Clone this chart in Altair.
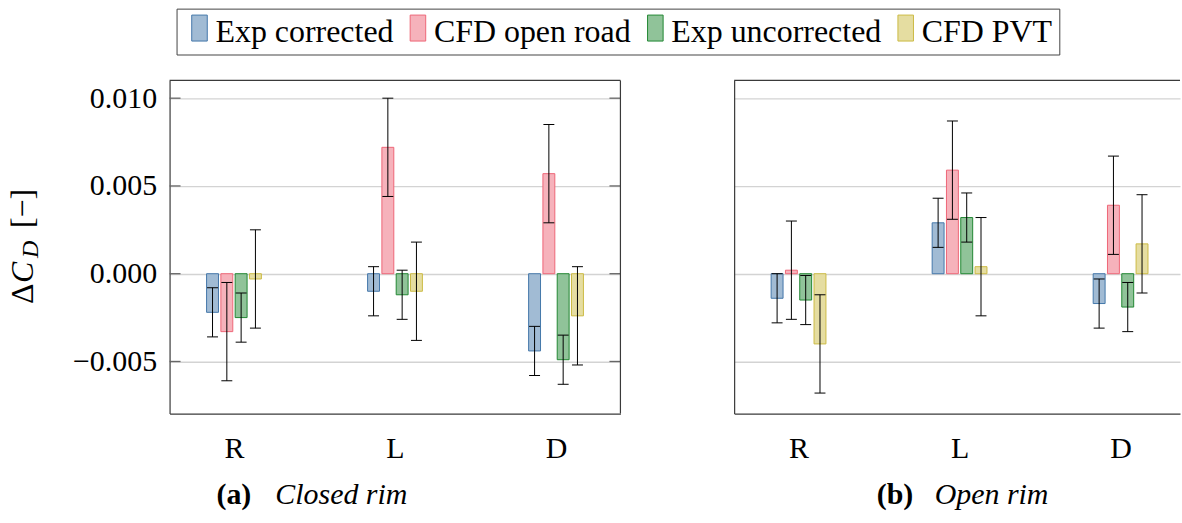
import altair as alt
import pandas as pd

categories = ["R", "L", "D"]
series = ["Exp corrected", "CFD open road", "Exp uncorrected", "CFD PVT"]
line_colors = ["#4477AA", "#EE6677", "#228833", "#CCBB44"]
fill_colors = ["#A1BBD4", "#F6B2BB", "#90C399", "#E5DDA1"]

# Delta C_D for R, L, D -- closed rim
closed_exp_corrected = [-0.0022, -0.0010, -0.0044]
closed_cfd_open_road = [-0.0033, 0.0072, 0.0057]
closed_exp_uncorrected = [-0.0025, -0.0012, -0.0049]
closed_cfd_pvt = [-0.0003, -0.0010, -0.0024]

# Delta C_D for R, L, D -- open rim
open_exp_corrected = [-0.0014, 0.0029, -0.0017]
open_cfd_open_road = [0.0002, 0.0059, 0.0039]
open_exp_uncorrected = [-0.0015, 0.0032, -0.0019]
open_cfd_pvt = [-0.0040, 0.0004, 0.0017]

# half-widths of the uncertainty bars
exp_uncertainty = [0.0014, 0.0014, 0.0014]
cfd_uncertainty = [0.0028, 0.0028, 0.0028]

y_ticks = [-0.005, 0.0, 0.005, 0.010]

FONT = "Liberation Serif"
FRAME = "#3a3a3a"
TICK = "#666666"
BAR_STEP = 0.0888
BAR_HALF = 0.037
CAP_HALF = 0.034
Y_DOMAIN = [-0.00797, 0.01101]
PANEL_H = 334


def table(groups):
    rows = []
    for s_idx, (name, vals, errs) in enumerate(groups):
        for c_idx, (v, e) in enumerate(zip(vals, errs)):
            rows.append({"cat": c_idx, "series": name, "s": s_idx, "value": v, "err": e})
    return pd.DataFrame(rows)


closed_df = table([
    (series[0], closed_exp_corrected, exp_uncertainty),
    (series[1], closed_cfd_open_road, cfd_uncertainty),
    (series[2], closed_exp_uncorrected, exp_uncertainty),
    (series[3], closed_cfd_pvt, cfd_uncertainty),
])
open_df = table([
    (series[0], open_exp_corrected, exp_uncertainty),
    (series[1], open_cfd_open_road, cfd_uncertainty),
    (series[2], open_exp_uncorrected, exp_uncertainty),
    (series[3], open_cfd_pvt, cfd_uncertainty),
])
tick_df = pd.DataFrame({"t": y_ticks})
one = pd.DataFrame({"k": [0]})

label_expr = "[" + ",".join(f"'{c}'" for c in categories) + "][datum.value]"

# tall narrow swatch, nudged up to sit level with the label text
legend = alt.Legend(
    orient="none", legendX=7, legendY=-72, direction="horizontal", columns=4,
    title=None, labelFont=FONT, labelFontSize=32, labelColor="black", labelLimit=0,
    symbolType="M-1,-2.12H1V1.22H-1Z", symbolSize=243, symbolStrokeWidth=1,
    labelOffset=0, columnPadding=8, padding=7, strokeColor="#444444",
)


def panel(df, width, x_domain, show_y_labels, tag, caption, tag_x, caption_x):
    x_scale = alt.Scale(domain=x_domain, nice=False, zero=False)
    y_scale = alt.Scale(domain=Y_DOMAIN, nice=False, zero=False)
    x_axis = alt.Axis(values=[0, 1, 2], labelExpr=label_expr, title=None, grid=False,
                      labelFontSize=30, labelPadding=20, labelFont=FONT)
    y_axis = alt.Axis(values=y_ticks, format=".3f", title=None, grid=True,
                      labels=show_y_labels, labelFontSize=30, labelPadding=13, labelFont=FONT)

    base = alt.Chart(df).transform_calculate(
        xc=f"datum.cat + (datum.s - 1.5) * {BAR_STEP}",
        lo="datum.value - datum.err",
        hi="datum.value + datum.err",
    ).transform_calculate(
        x_lo=f"datum.xc - {BAR_HALF}",
        x_hi=f"datum.xc + {BAR_HALF}",
        cap_lo=f"datum.xc - {CAP_HALF}",
        cap_hi=f"datum.xc + {CAP_HALF}",
    )

    bars = base.mark_rect(strokeWidth=1).encode(
        x=alt.X("x_lo:Q", scale=x_scale, axis=x_axis),
        x2="x_hi:Q",
        y=alt.Y("value:Q", scale=y_scale, axis=y_axis),
        y2=alt.datum(0),
        fill=alt.Fill("series:N", scale=alt.Scale(domain=series, range=fill_colors), legend=legend),
        stroke=alt.Stroke("series:N", scale=alt.Scale(domain=series, range=line_colors), legend=legend),
    )
    whisker = base.mark_rule(color="black", strokeWidth=1).encode(
        x=alt.X("xc:Q", scale=x_scale, axis=x_axis),
        y=alt.Y("lo:Q", scale=y_scale, axis=y_axis),
        y2="hi:Q",
    )
    cap_top = base.mark_rule(color="black", strokeWidth=1).encode(
        x=alt.X("cap_lo:Q", scale=x_scale, axis=x_axis),
        x2="cap_hi:Q",
        y=alt.Y("hi:Q", scale=y_scale, axis=y_axis),
    )
    cap_bottom = base.mark_rule(color="black", strokeWidth=1).encode(
        x=alt.X("cap_lo:Q", scale=x_scale, axis=x_axis),
        x2="cap_hi:Q",
        y=alt.Y("lo:Q", scale=y_scale, axis=y_axis),
    )

    top_edge = alt.Chart(one).mark_rule(color=FRAME, strokeWidth=1.2).encode(y=alt.value(0))
    tag_text = alt.Chart(one).mark_text(
        text=tag, font=FONT, fontSize=30, fontWeight="bold", align="left", baseline="alphabetic"
    ).encode(x=alt.value(tag_x), y=alt.value(425))
    caption_text = alt.Chart(one).mark_text(
        text=caption, font=FONT, fontSize=30, fontStyle="italic", align="left", baseline="alphabetic"
    ).encode(x=alt.value(caption_x), y=alt.value(425))

    layers = [bars, whisker, cap_top, cap_bottom, top_edge, tag_text, caption_text]
    if show_y_labels:
        # short inward ticks on both vertical edges
        for x0, x1 in [(0, 11), (width - 11, width)]:
            layers.append(
                alt.Chart(tick_df).mark_rule(color=TICK, strokeWidth=1.3).encode(
                    y=alt.Y("t:Q", scale=y_scale, axis=y_axis),
                    x=alt.value(x0), x2=alt.value(x1),
                )
            )
        right_edge = alt.Chart(one).mark_rule(color=FRAME, strokeWidth=1.2).encode(x=alt.value(width))
        title_parts = [
            ("\u0394", "normal", 32, -137, 224),
            ("C", "italic", 32, -137, 203),
            ("D", "italic", 24, -132, 178),
            ("[\u2212]", "normal", 32, -137, 148),
        ]
        for text, style, size, tx, ty in title_parts:
            layers.append(
                alt.Chart(one).mark_text(
                    text=text, font=FONT, fontSize=size, fontStyle=style, angle=270,
                    align="left", baseline="alphabetic",
                ).encode(x=alt.value(tx), y=alt.value(ty))
            )
        layers.append(right_edge)
    return alt.layer(*layers).properties(width=width, height=PANEL_H)


closed_panel = panel(closed_df, 452, [-0.4, 2.4], True, "(a)", "Closed rim", 47, 106)
open_panel = panel(open_df, 447, [-0.4, -0.4 + 447 / 161.43], False, "(b)", "Open rim", 143, 201)

chart = alt.hconcat(closed_panel, open_panel, spacing=110).properties(
    padding={"left": 6, "top": 7, "right": 0, "bottom": 0}
).configure(font=FONT).configure_view(stroke="transparent").configure_axis(
    labelColor="black", domainColor=FRAME, domainWidth=1.2, ticks=False,
    gridColor="#D3D3D3", gridWidth=1.4,
)

chart.save("out.html", embed_options={"renderer": "svg", "actions": False})
